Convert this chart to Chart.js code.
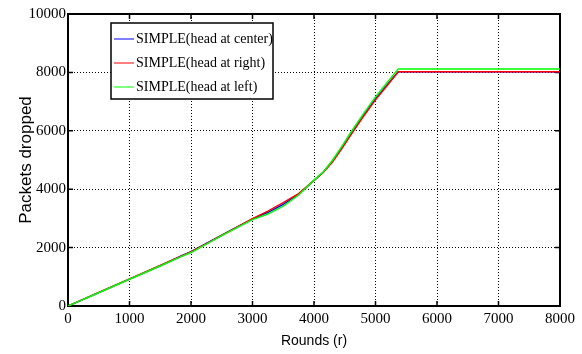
<!DOCTYPE html>
<html>
<head>
<meta charset="utf-8">
<script src="https://cdn.jsdelivr.net/npm/chart.js@4"></script>
<style>
  html, body { margin: 0; padding: 0; background: #fff; }
  #wrap { width: 582px; height: 354px; position: relative; }
</style>
</head>
<body>
<div id="wrap"><canvas id="myChart" width="582" height="354"></canvas></div>
<script>
// rounds (x values) shared by all three series
const rounds = [0, 500, 1000, 1500, 1850, 2000, 2500, 3000, 3250, 3500, 3750, 4000, 4150, 4300, 4450, 4600, 4800, 5000, 5200, 5370, 6000, 7000, 8000];
const headCenter = [0, 460, 920, 1380, 1720, 1860, 2430, 2980, 3200, 3480, 3820, 4300, 4580, 4960, 5420, 5900, 6520, 7100, 7600, 8020, 8020, 8020, 8020];
const headRight  = [0, 465, 925, 1385, 1715, 1850, 2420, 2990, 3250, 3540, 3850, 4300, 4570, 4930, 5380, 5860, 6480, 7060, 7580, 8020, 8020, 8020, 8020];
const headLeft   = [0, 455, 915, 1370, 1700, 1830, 2410, 2960, 3150, 3420, 3800, 4310, 4590, 4990, 5460, 5950, 6570, 7160, 7680, 8120, 8120, 8120, 8120];
const seriesNames = ['SIMPLE(head at center)', 'SIMPLE(head at right)', 'SIMPLE(head at left)'];
const seriesColors = ['#0000ff', '#ff0000', '#00ff00'];

const toPoints = (ys) => rounds.map((r, i) => ({ x: r, y: ys[i] }));

// black frame with inward ticks on all four sides
const framePlugin = {
  id: 'frame',
  beforeDatasetsDraw(chart) {
    const { ctx, chartArea: a, scales } = chart;
    ctx.save();
    ctx.strokeStyle = '#000';
    ctx.lineWidth = 1.5;
    ctx.beginPath();
    scales.x.ticks.forEach(t => {
      const px = scales.x.getPixelForValue(t.value);
      ctx.moveTo(px, a.bottom); ctx.lineTo(px, a.bottom - 5);
      ctx.moveTo(px, a.top); ctx.lineTo(px, a.top + 5);
    });
    scales.y.ticks.forEach(t => {
      const py = scales.y.getPixelForValue(t.value);
      ctx.moveTo(a.left, py); ctx.lineTo(a.left + 5, py);
      ctx.moveTo(a.right, py); ctx.lineTo(a.right - 5, py);
    });
    ctx.stroke();
    ctx.lineWidth = 2;
    ctx.strokeRect(a.left, a.top, a.right - a.left, a.bottom - a.top);
    ctx.restore();
  }
};

// boxed legend inside the plot
const legendPlugin = {
  id: 'boxLegend',
  afterDraw(chart) {
    const ctx = chart.ctx;
    const x0 = 111, y0 = 23, w = 162, h = 76;
    ctx.save();
    ctx.fillStyle = '#fff';
    ctx.fillRect(x0, y0, w, h);
    ctx.strokeStyle = '#000';
    ctx.lineWidth = 1.5;
    ctx.strokeRect(x0, y0, w, h);
    ctx.font = '14px "Liberation Serif"';
    ctx.textBaseline = 'middle';
    seriesNames.forEach((name, i) => {
      const y = y0 + 16 + i * 24;
      ctx.strokeStyle = seriesColors[i];
      ctx.lineWidth = 1;
      ctx.beginPath();
      ctx.moveTo(x0 + 3, y); ctx.lineTo(x0 + 23, y);
      ctx.stroke();
      ctx.fillStyle = '#000';
      ctx.fillText(name, x0 + 25, y);
    });
    ctx.restore();
  }
};

const ctx = document.getElementById('myChart');

new Chart(ctx,
  {
    type: 'line',
    data:
    {
      datasets:
      [
        { label: seriesNames[0], data: toPoints(headCenter), borderColor: seriesColors[0], order: 2 },
        { label: seriesNames[1], data: toPoints(headRight), borderColor: seriesColors[1], order: 1 },
        { label: seriesNames[2], data: toPoints(headLeft), borderColor: seriesColors[2], order: 0 }
      ]
    },
    options:
    {
      responsive: false,
      animation: false,
      layout: { padding: { top: 14, right: 22, left: 12, bottom: 0 } },
      elements: {
        point: { radius: 0 },
        line: { borderWidth: 1.5, tension: 0 }
      },
      scales:
      {
        x:
        {
          type: 'linear',
          min: 0,
          max: 8000,
          afterFit: (s) => { s.height = 48; },
          ticks: { stepSize: 1000, color: '#000', padding: 4, font: { family: 'Liberation Serif', size: 15 }, callback: (v) => String(v) },
          grid: { color: '#000', lineWidth: 1, drawTicks: false },
          border: { display: false, dash: [1, 2] },
          title: { display: true, text: 'Rounds (r)', color: '#000', padding: { top: 0 }, font: { family: 'Liberation Sans', size: 14 } }
        },
        y:
        {
          min: 0,
          max: 10000,
          afterFit: (s) => { s.width = 56; },
          ticks: { stepSize: 2000, color: '#000', padding: 2, font: { family: 'Liberation Serif', size: 15 }, callback: (v) => String(v) },
          grid: { color: '#000', lineWidth: 1, drawTicks: false },
          border: { display: false, dash: [1, 2] },
          title: { display: true, text: 'Packets dropped', color: '#000', padding: { bottom: 0 }, font: { family: 'Liberation Sans', size: 17 } }
        }
      },
      plugins:
      {
        legend: { display: false },
        tooltip: { enabled: false }
      }
    },
    plugins: [framePlugin, legendPlugin]
  }
  );
</script>
</body>
</html>
